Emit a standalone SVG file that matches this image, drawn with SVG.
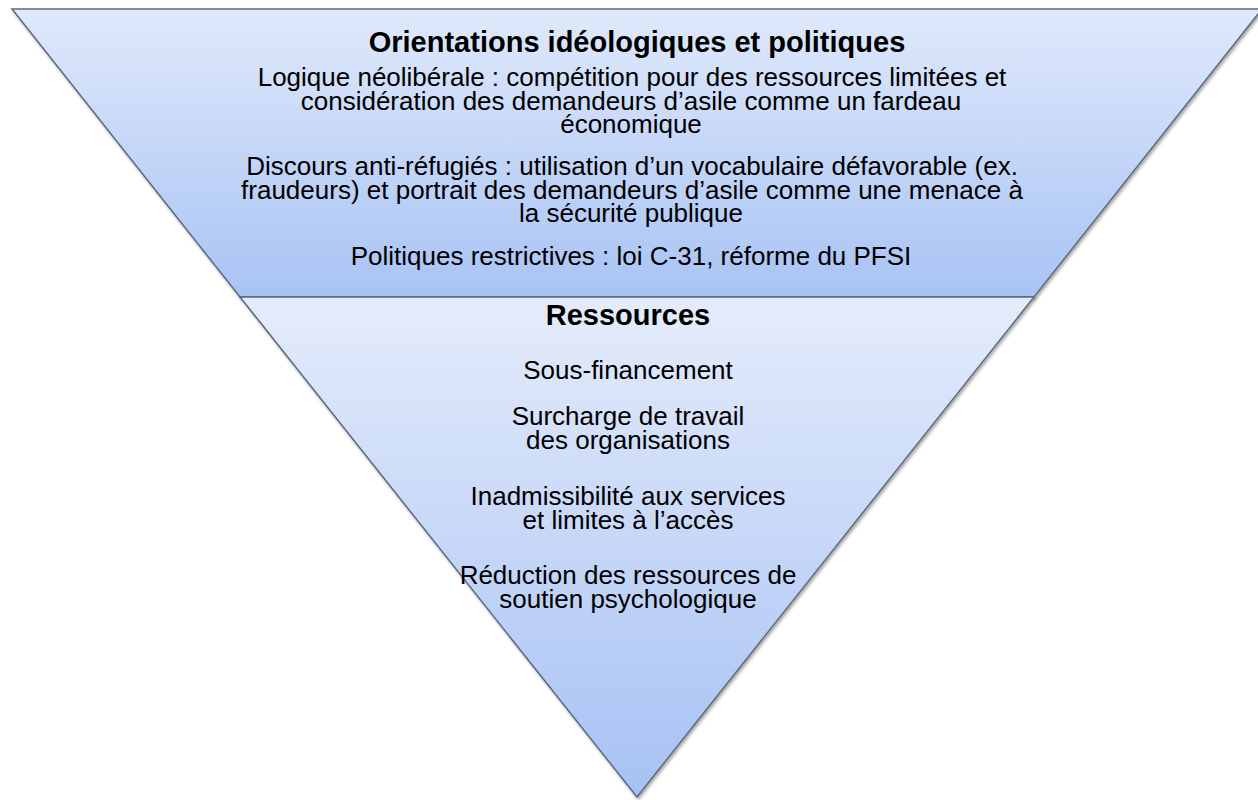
<svg xmlns="http://www.w3.org/2000/svg" width="1258" height="800" viewBox="0 0 1258 800">
<defs>
<linearGradient id="gTop" x1="0" y1="0" x2="0" y2="1">
<stop offset="0" stop-color="#e0e9fb"/>
<stop offset="1" stop-color="#a8c3f4"/>
</linearGradient>
<linearGradient id="gBot" x1="0" y1="0" x2="0" y2="1">
<stop offset="0" stop-color="#e5ecfb"/>
<stop offset="1" stop-color="#a6c1f4"/>
</linearGradient>
<filter id="sh" x="-5%" y="-5%" width="110%" height="110%">
<feDropShadow dx="1.5" dy="2" stdDeviation="1.5" flood-color="#000" flood-opacity="0.35"/>
</filter>
<style>
.seg{stroke:#5c6b80;stroke-width:1.5;stroke-linejoin:miter}
.t{font-family:"Liberation Sans",Arial,sans-serif;font-size:26px;fill:#000;text-anchor:middle}
.h{font-family:"Liberation Sans",Arial,sans-serif;font-size:29px;font-weight:bold;fill:#000;text-anchor:middle}
</style>
</defs>
<g id="segment-top" filter="url(#sh)">
<polygon class="seg" points="12,9 1262,9 1034,297 240,297" fill="url(#gTop)"/>
</g>
<g id="segment-bottom" filter="url(#sh)">
<polygon class="seg" points="240,297 1034,297 637,797" fill="url(#gBot)"/>
</g>
<g id="text-top">
<text class="h" x="637" y="52">Orientations idéologiques et politiques</text>
<text class="t" x="632" y="86">Logique néolibérale : compétition pour des ressources limitées et</text>
<text class="t" x="631" y="110">considération des demandeurs d’asile comme un fardeau</text>
<text class="t" x="631" y="133">économique</text>
<text class="t" x="632" y="175">Discours anti-réfugiés : utilisation d’un vocabulaire défavorable (ex.</text>
<text class="t" x="632" y="199">fraudeurs) et portrait des demandeurs d’asile comme une menace à</text>
<text class="t" x="631" y="222">la sécurité publique</text>
<text class="t" x="631" y="265">Politiques restrictives : loi C-31, réforme du PFSI</text>
</g>
<g id="text-bottom">
<text class="h" x="628" y="325">Ressources</text>
<text class="t" x="628" y="379">Sous-financement</text>
<text class="t" x="628" y="425">Surcharge de travail</text>
<text class="t" x="628" y="449">des organisations</text>
<text class="t" x="628" y="505">Inadmissibilité aux services</text>
<text class="t" x="628" y="529">et limites à l’accès</text>
<text class="t" x="628" y="584">Réduction des ressources de</text>
<text class="t" x="628" y="608">soutien psychologique</text>
</g>
</svg>
